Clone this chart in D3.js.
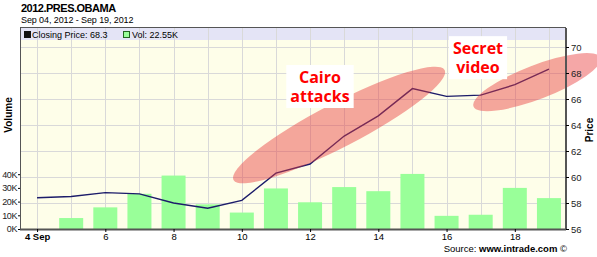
<!DOCTYPE html>
<html>
<head>
  <meta charset="utf-8">
  <title>2012.PRES.OBAMA</title>
  <style>
    body { margin: 0; background: #fff; font-family: "Liberation Sans", Arial, sans-serif; }
  </style>
  <script src="https://d3js.org/d3.v7.min.js"></script>
</head>
<body>
  <svg id="chart" width="597" height="257"></svg>
  <script>
    // data
    var days = [4, 5, 6, 7, 8, 9, 10, 11, 12, 13, 14, 15, 16, 17, 18, 19];
    var closing = [58.4, 58.5, 58.8, 58.7, 58.0, 57.6, 58.2, 60.3, 61.0, 63.15, 64.7, 66.8, 66.2, 66.3, 67.1, 68.3];
    var volDays = [5, 6, 7, 8, 9, 10, 11, 12, 13, 14, 15, 16, 17, 18, 19];
    var volume = [8000, 15800, 25700, 39000, 18000, 12000, 29600, 19500, 30600, 27600, 40200, 9600, 10400, 30000, 22550];
    var xTicks = [4, 6, 8, 10, 12, 14, 16, 18];
    var priceTicks = [56, 58, 60, 62, 64, 66, 68, 70];
    var volTicks = [0, 10000, 20000, 30000, 40000];
    var notes = [
      { lines: ["Cairo", "attacks"], day: 12.29, price: 67.23, e: { day: 12.85, price: 64.0, len: 238, w: 22, angle: -27.5 } },
      { lines: ["Secret", "video"], day: 16.92, price: 69.45, e: { day: 18.65, price: 67.3, len: 136, w: 17, angle: -21 } }
    ];

    var pl = 20, pr = 566, pt = 28, pb = 229;
    var font = "Liberation Sans, Arial, sans-serif";

    var svg = d3.select("#chart");

    var x = d3.scaleLinear().domain([3.5, 19.5]).range([pl, pr]);
    var yP = d3.scaleLinear().domain([56, 56 + (pb - pt) / 13]).range([pb, pt]);
    var yV = d3.scaleLinear().domain([0, (pb - pt) / 1.37 * 1000]).range([pb, pt]);

    // title
    svg.append("text").attr("x", 21).attr("y", 12)
        .style("font-size", "11px").style("font-weight", "bold").style("letter-spacing", "-0.5px")
        .text("2012.PRES.OBAMA");
    svg.append("text").attr("x", 21).attr("y", 22.5)
        .style("font-size", "9px").style("letter-spacing", "-0.1px").text("Sep 04, 2012 - Sep 19, 2012");

    // plot background
    svg.append("rect").attr("x", pl).attr("y", pt).attr("width", pr - pl).attr("height", pb - pt)
        .attr("fill", "#fefee9");
    svg.append("rect").attr("x", pl).attr("y", pt).attr("width", pr - pl).attr("height", 12)
        .attr("fill", "#e4e4f6");

    // grid
    var grid = svg.append("g").attr("stroke", "#d9d9d9").attr("stroke-width", 1);
    grid.selectAll(".gv").data(days).join("line")
        .attr("x1", d => Math.round(x(d)) + 0.5).attr("x2", d => Math.round(x(d)) + 0.5)
        .attr("y1", pt).attr("y2", pb);
    grid.selectAll(".gh").data(priceTicks.slice(1)).join("line")
        .attr("x1", pl).attr("x2", pr)
        .attr("y1", d => Math.round(yP(d)) + 0.5).attr("y2", d => Math.round(yP(d)) + 0.5);

    // volume bars
    var bw = 24;
    svg.append("g").selectAll("rect").data(volDays).join("rect")
        .attr("x", d => x(d) - bw / 2)
        .attr("y", (d, i) => yV(volume[i]))
        .attr("width", bw)
        .attr("height", (d, i) => pb - yV(volume[i]))
        .attr("fill", "#99ff99");

    // closing price line
    var line = d3.line().x(d => x(d[0])).y(d => yP(d[1]));
    svg.append("path")
        .datum(days.map((d, i) => [d, closing[i]]))
        .attr("d", line)
        .attr("fill", "none")
        .attr("stroke", "#1c1c6a")
        .attr("stroke-width", 1.4);

    // annotation ellipses
    svg.append("g").selectAll("ellipse").data(notes).join("ellipse")
        .attr("transform", d => "translate(" + x(d.e.day) + "," + yP(d.e.price) + ") rotate(" + d.e.angle + ")")
        .attr("rx", d => d.e.len / 2)
        .attr("ry", d => d.e.w)
        .attr("fill", "rgb(232,60,60)")
        .attr("fill-opacity", 0.45);

    // frame
    var frame = svg.append("g").attr("stroke", "#555").attr("fill", "none");
    frame.append("line").attr("x1", pl + 0.5).attr("x2", pl + 0.5).attr("y1", pt).attr("y2", pb);
    frame.append("line").attr("x1", pl).attr("x2", pr).attr("y1", pt - 0.5).attr("y2", pt - 0.5);

    // legend
    svg.append("rect").attr("x", 24.5).attr("y", 31.5).attr("width", 6).attr("height", 6).attr("fill", "#111").attr("stroke", "#111");
    svg.append("text").attr("x", 32).attr("y", 38).style("font-size", "9px").text("Closing Price: 68.3");
    svg.append("rect").attr("x", 123.5).attr("y", 31.5).attr("width", 6).attr("height", 6).attr("fill", "#99ff99").attr("stroke", "#226622");
    svg.append("text").attr("x", 132).attr("y", 38).style("font-size", "9px").text("Vol: 22.55K");

    // axes
    var xAxis = svg.append("g").attr("transform", "translate(0," + pb + ")")
        .call(d3.axisBottom(x).tickValues(xTicks).tickSize(3).tickPadding(1).tickFormat(d => d === 4 ? "4 Sep" : d));
    xAxis.select(".domain").attr("stroke", "#555").attr("stroke-width", 2).attr("d", "M" + pl + ",0.5H" + pr);
    xAxis.selectAll("text").style("font-size", "9.5px").style("font-family", font)
        .attr("fill", "#000")
        .style("font-weight", d => d === 4 ? "bold" : "normal");

    var pAxis = svg.append("g").attr("transform", "translate(" + pr + ",0)")
        .call(d3.axisRight(yP).tickValues(priceTicks).tickSize(3).tickPadding(2));
    pAxis.select(".domain").attr("stroke", "#555").attr("stroke-width", 2).attr("d", "M0," + pt + "V" + pb);
    pAxis.selectAll("text").style("font-size", "9.5px").style("font-family", font).attr("fill", "#222");

    var vAxis = svg.append("g").attr("transform", "translate(" + pl + ",0)")
        .call(d3.axisLeft(yV).tickValues(volTicks).tickSize(2).tickPadding(1).tickFormat(d => (d / 1000) + "K"));
    vAxis.select(".domain").remove();
    vAxis.selectAll("text").style("font-size", "9px").style("letter-spacing", "-0.4px").style("font-family", font).attr("fill", "#222");

    svg.append("text").attr("transform", "translate(12,115) rotate(-90)").attr("text-anchor", "middle")
        .style("font-size", "10px").style("font-weight", "bold").text("Volume");
    svg.append("text").attr("transform", "translate(593,130) rotate(-90)").attr("text-anchor", "middle")
        .style("font-size", "10px").style("font-weight", "bold").text("Price");

    // source
    var src = svg.append("text").attr("x", 567).attr("y", 252).attr("text-anchor", "end").style("font-size", "9.5px");
    src.append("tspan").text("Source: ");
    src.append("tspan").style("font-weight", "bold").text("www.intrade.com");
    src.append("tspan").text(" \u00a9");

    // annotation labels on white boxes
    notes.forEach(function(n) {
      var g = svg.append("g");
      var cx = x(n.day), ty = yP(n.price);
      var t = g.append("text").attr("text-anchor", "middle")
          .style("font-family", "'Open Sans', sans-serif").style("font-size", "16px").style("font-weight", "bold")
          .attr("fill", "#ff0000");
      n.lines.forEach(function(s, i) {
        t.append("tspan").attr("x", cx).attr("y", ty + i * 19).text(s);
      });
      var b = t.node().getBBox();
      g.insert("rect", "text").attr("x", b.x - 4).attr("y", b.y - 1).attr("width", b.width + 8).attr("height", b.height + 2)
          .attr("fill", "#fff");
    });
  </script>
</body>
</html>
